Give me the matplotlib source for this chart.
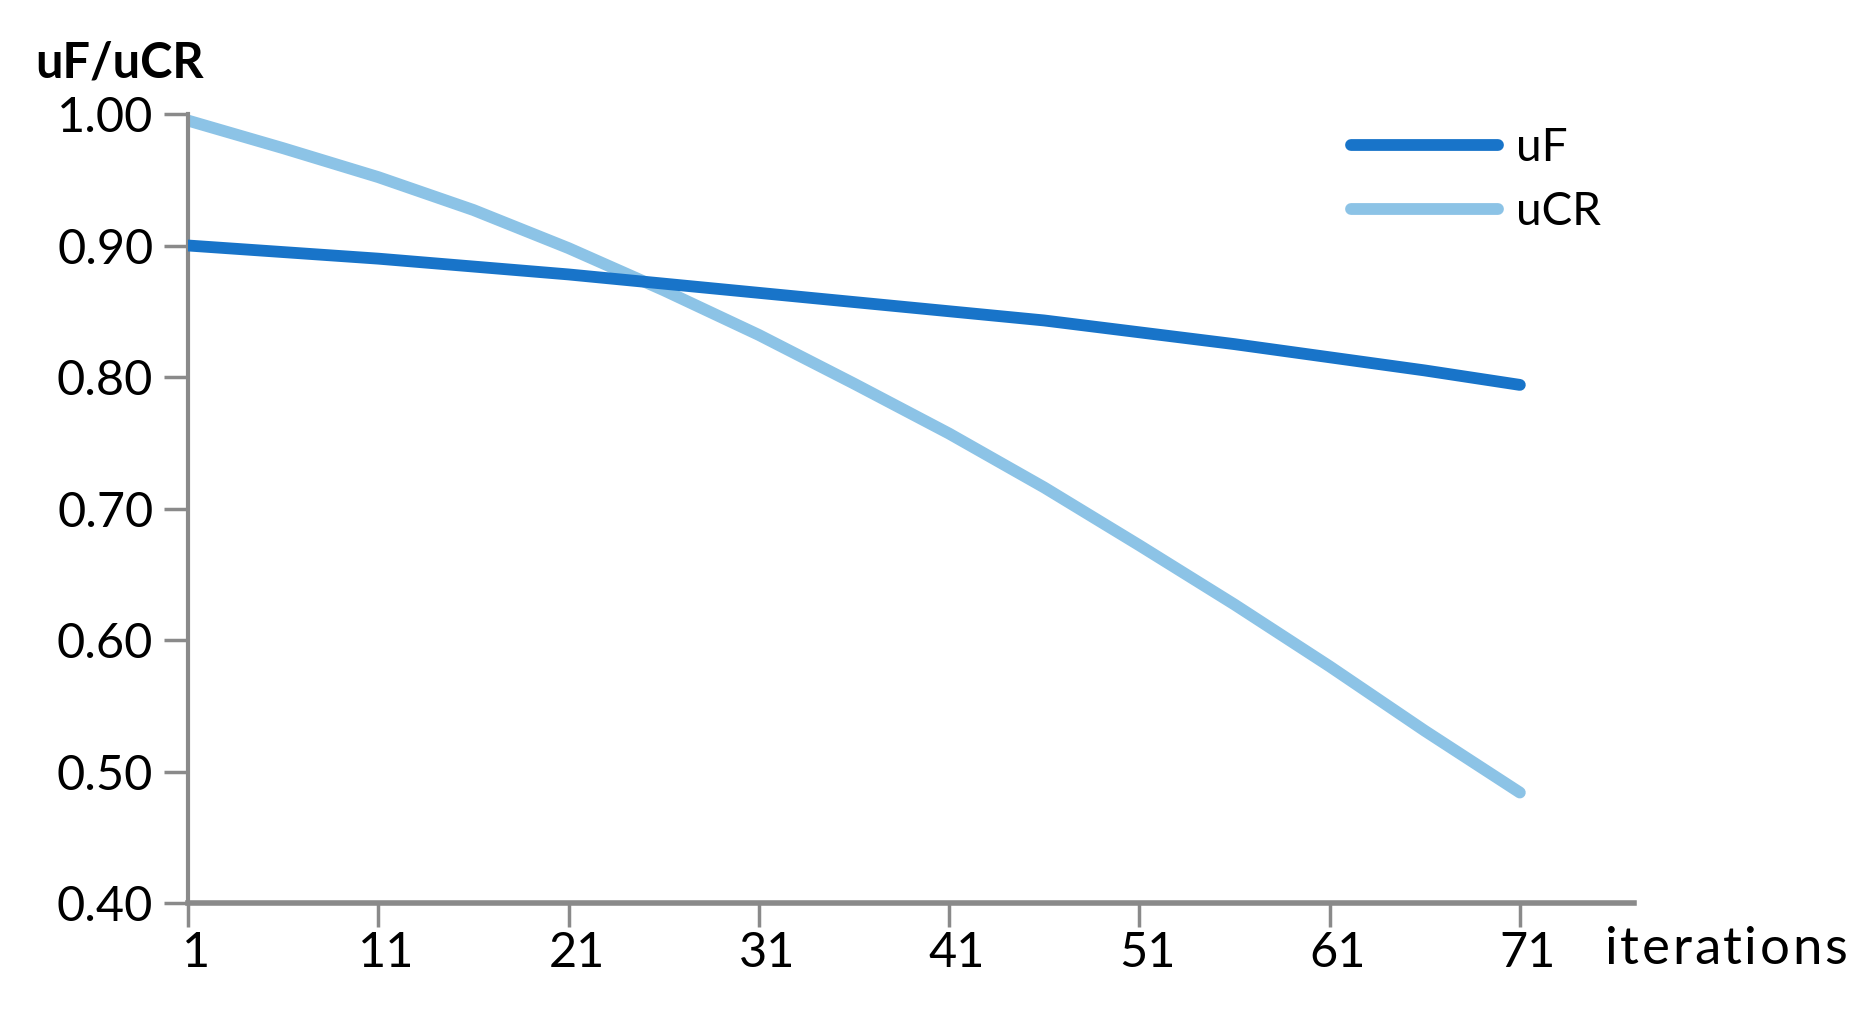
import matplotlib
matplotlib.use("Agg")
import matplotlib.pyplot as plt
import matplotlib.transforms as mtransforms

iterations = [1, 6, 11, 16, 21, 26, 31, 36, 41, 46, 51, 56, 61, 66, 71]
uF = [0.900, 0.895, 0.890, 0.884, 0.878, 0.871, 0.864, 0.857, 0.850, 0.843, 0.834, 0.825, 0.815, 0.805, 0.794]
uCR = [0.995, 0.974, 0.952, 0.927, 0.898, 0.866, 0.832, 0.795, 0.757, 0.716, 0.672, 0.627, 0.580, 0.531, 0.484]
xticks = [1, 11, 21, 31, 41, 51, 61, 71]
yticks = [0.40, 0.50, 0.60, 0.70, 0.80, 0.90, 1.00]

plt.rcParams['font.family'] = ['Lato', 'DejaVu Sans']

W, H = 1875, 1034
fig = plt.figure(figsize=(W / 100, H / 100), dpi=100)
ax = fig.add_axes([188 / W, 1 - 903 / H, (1634 - 188) / W, (903 - 114) / H])

c_uF = '#1874c9'
c_uCR = '#8cc3e6'
ax.plot(iterations, uF, color=c_uF, lw=8.5, solid_capstyle='round', solid_joinstyle='round', label='uF', zorder=3)
ax.plot(iterations, uCR, color=c_uCR, lw=8.5, solid_capstyle='round', solid_joinstyle='round', label='uCR', zorder=2)

ax.set_xlim(1, 77)
ax.set_ylim(0.40, 1.00)
ax.set_xticks(xticks)
ax.set_xticklabels([str(t) for t in xticks])
ax.set_yticks(yticks)
ax.set_yticklabels([f"{t:.2f}" for t in yticks])

for s in ['top', 'right']:
    ax.spines[s].set_visible(False)
gray = '#8a8a8a'
ax.spines['left'].set_color(gray)
ax.spines['left'].set_linewidth(3)
ax.spines['bottom'].set_color(gray)
ax.spines['bottom'].set_linewidth(4)
ax.tick_params(axis='both', colors=gray, width=2.5, length=17, labelcolor='black', labelsize=35)
ax.tick_params(axis='y', pad=8)
ax.tick_params(axis='x', pad=3)
shift = mtransforms.ScaledTranslation(8 / 100, 0, fig.dpi_scale_trans)
for lab in ax.get_xticklabels():
    lab.set_transform(lab.get_transform() + shift)

fig.text(35 / W, 1 - 77 / H, 'uF/uCR', fontsize=35, fontweight='bold', ha='left', va='baseline')

# slightly letter-spaced axis label "iterations"
def tracked_text(s, x0, x1, y_base, size):
    renderer = fig.canvas.get_renderer()
    widths = []
    for ch in s:
        t = fig.text(0, 0, ch, fontsize=size)
        bb = t.get_window_extent(renderer=renderer)
        widths.append(bb.width)
        t.remove()
    total = x1 - x0
    gap = (total - sum(widths)) / (len(s) - 1)
    x = x0
    for ch, w in zip(s, widths):
        fig.text(x / W, 1 - y_base / H, ch, fontsize=size, ha='left', va='baseline')
        x += w + gap

tracked_text('iterations', 1605, 1847, 964, 38)

leg = ax.legend(loc='upper left', bbox_to_anchor=((1351 - 188) / 1446, (903 - 127) / 789),
                frameon=False, fontsize=33, handlelength=3.2, handletextpad=0.4,
                labelspacing=0.48, borderaxespad=0, borderpad=0)

fig.savefig('out.png', dpi=100)
